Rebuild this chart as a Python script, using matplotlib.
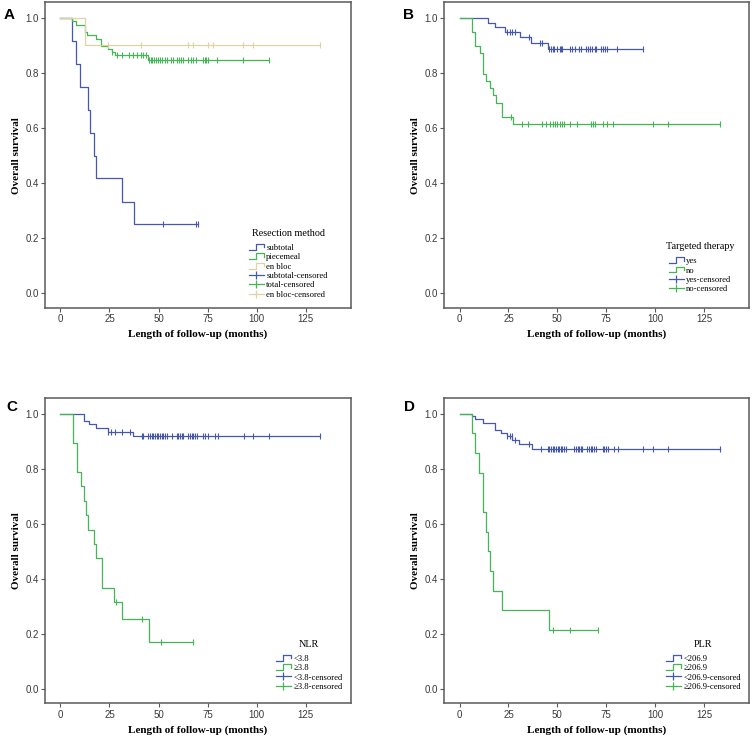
import numpy as np
import matplotlib
matplotlib.use("Agg")
import matplotlib.pyplot as plt
from matplotlib.lines import Line2D
from matplotlib.legend_handler import HandlerBase

# ---------------- data ----------------
# Panel A: Resection method
sub_t = [6, 8, 10.2, 14, 15.3, 17.3, 18.3, 31.2, 37.3]
sub_s = [0.917, 0.833, 0.750, 0.667, 0.583, 0.500, 0.417, 0.333, 0.250]
sub_c = [52.1, 69.2, 70.2]
pie_t = [6, 8, 12.4, 13.6, 18.2, 20.8, 24.1, 26.2, 27.6, 44.8]
pie_s = [0.988, 0.975, 0.950, 0.937, 0.924, 0.899, 0.888, 0.877, 0.866, 0.846]
pie_c = [26.5, 28.8, 31.5, 35.0, 37.0, 39.2, 41.2, 42.2, 43.6, 45.3, 46.0, 46.7, 47.7,
         48.7, 49.8, 50.8, 51.8, 53.1, 54.1, 56.2, 57.2, 59.2, 60.2, 61.2, 62.6, 65.1,
         66.3, 67.7, 69.0, 72.4, 73.4, 74.4, 75.4, 79.9, 93.1, 106.3]
blc_t = [12.4]
blc_s = [0.900]
blc_c = [24.4, 41.3, 65.1, 67.7, 75.0, 77.8, 93.1, 98.2, 132.1]

# Panel B: Targeted therapy
yes_t = [14.3, 18.2, 23.3, 30.8, 36.5, 45.3]
yes_s = [0.982, 0.965, 0.947, 0.929, 0.909, 0.887]
yes_c = [24.3, 25.7, 27.0, 28.4, 35.3, 41.0, 42.2, 45.5, 46.5, 47.5, 48.5, 50.0, 51.3,
         52.0, 52.6, 56.4, 57.7, 58.8, 60.8, 62.2, 64.5, 65.6, 66.6, 67.6, 69.0, 69.6,
         72.4, 73.4, 74.4, 75.4, 80.5, 93.5]
no_t = [6.3, 8.0, 10.4, 12.1, 13.5, 15.5, 17.2, 18.4, 21.5, 27.2]
no_s = [0.949, 0.897, 0.872, 0.795, 0.769, 0.744, 0.718, 0.692, 0.641, 0.615]
no_c = [26.4, 31.7, 35.2, 42.0, 44.0, 46.0, 47.8, 48.7, 49.6, 51.3, 52.3, 53.5, 56.4,
        60.0, 67.2, 68.3, 69.3, 73.4, 75.4, 78.5, 98.6, 106.6, 133.0]

# Panel C: NLR
lo_t = [12.2, 14.8, 18.3, 24.1, 36.8]
lo_s = [0.975, 0.961, 0.947, 0.934, 0.919]
lo_c = [24.4, 25.8, 27.8, 31.2, 35.4, 41.4, 42.2, 44.8, 45.6, 46.5, 47.3, 48.2, 49.0,
        49.9, 50.7, 51.6, 52.4, 53.3, 54.1, 56.6, 59.2, 60.0, 60.9, 61.7, 62.6, 65.1,
        66.0, 66.8, 67.7, 68.5, 69.4, 72.8, 73.6, 75.3, 78.7, 80.4, 93.5, 98.2, 106.3, 132.1]
hi_t = [6.2, 8.3, 10.3, 12.2, 13.2, 14.2, 17.3, 18.3, 21.2, 27.5, 31.5, 45.1]
hi_s = [0.895, 0.789, 0.737, 0.684, 0.632, 0.579, 0.526, 0.474, 0.368, 0.316, 0.253, 0.169]
hi_c = [28.2, 41.4, 51.4, 67.7]

# Panel D: PLR
plo_t = [6.3, 8.0, 12.1, 18.0, 21.1, 24.0, 27.0, 30.5, 37.0]
plo_s = [0.990, 0.979, 0.965, 0.941, 0.929, 0.918, 0.904, 0.889, 0.873]
plo_c = [24.5, 25.7, 26.7, 28.3, 35.6, 41.6, 45.0, 45.8, 46.7, 47.5, 48.4, 49.2, 50.1,
         50.9, 51.8, 52.6, 53.5, 54.3, 58.6, 59.4, 60.3, 61.1, 62.0, 62.8, 64.9, 66.2,
         67.1, 67.9, 68.8, 69.7, 73.1, 73.9, 74.8, 75.6, 79.0, 80.7, 93.5, 98.6, 106.6, 133.0]
phi_t = [6.3, 8.0, 10.0, 12.1, 13.5, 14.5, 15.5, 17.2, 21.5, 45.5]
phi_s = [0.929, 0.857, 0.786, 0.643, 0.571, 0.500, 0.429, 0.357, 0.286, 0.214]
phi_c = [47.5, 56.5, 70.5]

x_ticks = [0, 25, 50, 75, 100, 125]
y_ticks = [0.0, 0.2, 0.4, 0.6, 0.8, 1.0]

BLUE = "#4658ab"
GREEN = "#45b655"
TAN = "#ddd4a0"
SERIF = ["Liberation Serif", "DejaVu Serif"]
SANS = ["Liberation Sans", "DejaVu Sans"]


class StepHandler(HandlerBase):
    def create_artists(self, legend, orig_handle, xdescent, ydescent, width, height, fontsize, trans):
        x0, y0 = -xdescent, -ydescent
        xs = [x0, x0 + 0.5 * width, x0 + 0.5 * width, x0 + width, x0 + width]
        ys = [y0 + 0.1 * height, y0 + 0.1 * height, y0 + 0.9 * height, y0 + 0.9 * height, y0 + 0.45 * height]
        l = Line2D(xs, ys, color=orig_handle.get_color(), lw=0.9, transform=trans)
        return [l]


def km(ax, t, s, c, color):
    end = max(max(t), max(c))
    xs = [0] + list(t) + [end]
    ys = [1.0] + list(s) + [s[-1]]
    ax.step(xs, ys, where="post", color=color, lw=0.9)
    tt = np.array(t)
    ss = np.array(s)
    lev = []
    for ci in c:
        idx = np.where(tt <= ci)[0]
        lev.append(ss[idx[-1]] if len(idx) else 1.0)
    ax.plot(c, lev, ls="none", marker="|", ms=5, mew=0.8, color=color)


def setup(ax, letter, lx, ly):
    ax.set_xlim(-7.8, 148)
    ax.set_ylim(-0.053, 1.056)
    ax.set_xticks(x_ticks)
    ax.set_yticks(y_ticks)
    ax.set_yticklabels([f"{v:.1f}" for v in y_ticks])
    for sp in ax.spines.values():
        sp.set_color("#5a5a5a")
        sp.set_linewidth(1.1)
    ax.tick_params(direction="out", length=3, width=0.8, color="#5a5a5a", pad=1.5,
                   labelsize=7, labelcolor="#3a3a3a")
    for lab in ax.get_xticklabels() + ax.get_yticklabels():
        lab.set_family(SANS)
    ax.set_xlabel("Length of follow-up (months)", family=SERIF, fontweight="bold",
                  fontsize=8, labelpad=4)
    ax.set_ylabel("Overall survival", family=SERIF, fontweight="bold", fontsize=8, labelpad=3)
    ax.text(lx, ly, letter, transform=ax.transAxes, family=SANS, fontweight="bold",
            fontsize=11, ha="left", va="center")


def legend(ax, title, labels, colors, anchor):
    handles = []
    hmap = {}
    for col in colors:
        h = Line2D([], [], color=col, lw=0.9)
        handles.append(h)
        hmap[h] = StepHandler()
    for col in colors:
        handles.append(Line2D([], [], color=col, lw=0.9, marker="|", ms=6, mew=0.9))
    leg = ax.legend(handles, labels, handler_map=hmap, loc="lower left", bbox_to_anchor=anchor,
                    frameon=False, borderpad=0, borderaxespad=0, handlelength=1.7,
                    handletextpad=0.3, labelspacing=0.1, handleheight=0.9, numpoints=1,
                    prop={"family": SERIF, "size": 6.2},
                    title=title, title_fontproperties={"family": SERIF, "size": 7.3})
    leg._legend_box.sep = 4


fig = plt.figure(figsize=(7.53, 7.39), dpi=100)
axA = fig.add_axes([0.0598, 0.5832, 0.4064, 0.4137])
axB = fig.add_axes([0.5900, 0.5832, 0.4050, 0.4137])
axC = fig.add_axes([0.0598, 0.0483, 0.4064, 0.4127])
axD = fig.add_axes([0.5900, 0.0483, 0.4050, 0.4127])

km(axA, sub_t, sub_s, sub_c, BLUE)
km(axA, pie_t, pie_s, pie_c, GREEN)
km(axA, blc_t, blc_s, blc_c, TAN)
setup(axA, "A", -0.134, 0.958)
legend(axA, "Resection method",
       ["subtotal", "piecemeal", "en bloc", "subtotal-censored", "total-censored", "en bloc-censored"],
       [BLUE, GREEN, TAN], (0.667, 0.03))

km(axB, yes_t, yes_s, yes_c, BLUE)
km(axB, no_t, no_s, no_c, GREEN)
setup(axB, "B", -0.136, 0.958)
legend(axB, "Targeted therapy", ["yes", "no", "yes-censored", "no-censored"],
       [BLUE, GREEN], (0.727, 0.048))

km(axC, lo_t, lo_s, lo_c, BLUE)
km(axC, hi_t, hi_s, hi_c, GREEN)
setup(axC, "C", -0.125, 0.972)
legend(axC, "NLR", ["<3.8", "\u22653.8", "<3.8-censored", "\u22653.8-censored"],
       [BLUE, GREEN], (0.755, 0.04))

km(axD, plo_t, plo_s, plo_c, BLUE)
km(axD, phi_t, phi_s, phi_c, GREEN)
setup(axD, "D", -0.132, 0.972)
legend(axD, "PLR", ["<206.9", "\u2265206.9", "<206.9-censored", "\u2265206.9-censored"],
       [BLUE, GREEN], (0.727, 0.04))

fig.savefig("out.png", dpi=100)
